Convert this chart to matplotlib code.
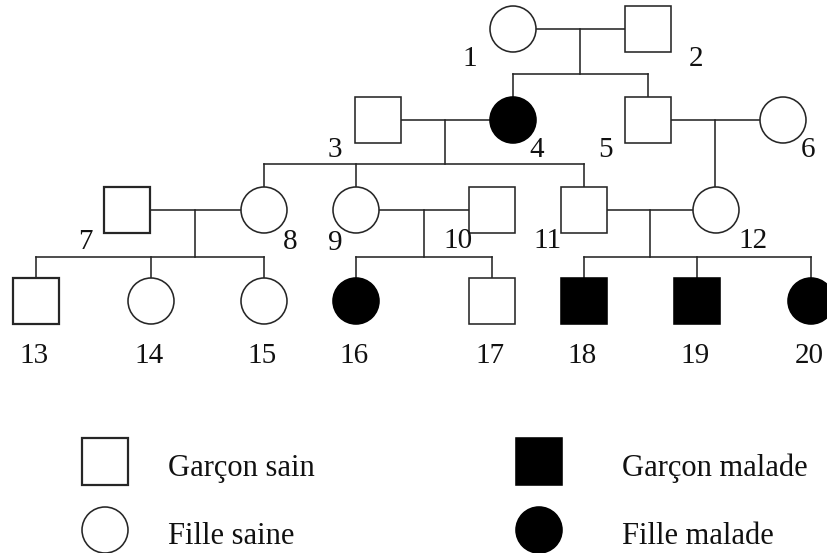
import matplotlib
matplotlib.use('Agg')
import matplotlib.pyplot as plt
from matplotlib.patches import Rectangle, Circle

# individuals: id, sex (M/F), affected
ids = list(range(1, 21))
sex = ['F', 'M', 'M', 'F', 'M', 'F', 'M', 'F', 'F', 'M',
       'M', 'F', 'M', 'F', 'F', 'F', 'M', 'M', 'M', 'F']
affected = [0, 0, 0, 1, 0, 0, 0, 0, 0, 0,
            0, 0, 0, 0, 0, 1, 0, 1, 1, 1]

# couples (left, right) and their children
couples = [(1, 2), (3, 4), (5, 6), (7, 8), (9, 10), (11, 12)]
children = [[4, 5], [8, 9, 11], [12], [13, 14, 15], [16, 17], [18, 19, 20]]

legend_labels = ['Garçon sain', 'Fille saine', 'Garçon malade', 'Fille malade']
legend_sex = ['M', 'F', 'M', 'F']
legend_affected = [0, 0, 1, 1]

# layout (pixel coordinates)
gen_y = [29, 120, 210, 301]
sib_y = [74, 164, 257]
xpos = {1: 513, 2: 648,
        3: 378, 4: 513, 5: 648, 6: 783,
        7: 127, 8: 264, 9: 356, 10: 492, 11: 584, 12: 716,
        13: 36, 14: 151, 15: 264, 16: 356, 17: 492, 18: 584, 19: 697, 20: 811}
gen_of = {}
for i in ids:
    gen_of[i] = 0 if i <= 2 else 1 if i <= 6 else 2 if i <= 12 else 3
# label positions (x, baseline)
label_pos = {1: (470, 66), 2: (696, 66), 3: (335, 157), 4: (537, 157),
             5: (606, 157), 6: (808, 157), 7: (85, 249), 8: (290, 249),
             9: (335, 250), 10: (458, 248), 11: (548, 248), 12: (753, 248)}

R = 23
LC = '#262626'
LW = 1.15

plt.rcParams['font.family'] = ['Liberation Serif', 'DejaVu Serif']

fig = plt.figure(figsize=(8.28, 5.53), dpi=100)
ax = fig.add_axes([0, 0, 1, 1])
ax.set_xlim(0, 828)
ax.set_ylim(553, 0)
ax.axis('off')


def draw_symbol(x, y, s, aff, lw=LW, h=None):
    fc = 'black' if aff else 'white'
    if s == 'M':
        hh = 2 * R if h is None else h
        ax.add_patch(Rectangle((x - R, y - hh / 2), 2 * R, hh, facecolor=fc,
                               edgecolor=LC if not aff else 'black', lw=lw, zorder=3))
    else:
        ax.add_patch(Circle((x, y), R, facecolor=fc,
                            edgecolor=LC if not aff else 'black', lw=lw, zorder=3))


for (a, b), kids in zip(couples, children):
    g = gen_of[a]
    y = gen_y[g]
    xa, xb = xpos[a] + R, xpos[b] - R
    ax.plot([xa, xb], [y, y], color=LC, lw=LW, zorder=1)
    xm = (xa + xb) / 2
    cy = gen_y[g + 1]
    if len(kids) == 1:
        ax.plot([xm, xm], [y, cy - R], color=LC, lw=LW, zorder=1)
        continue
    sy = sib_y[g]
    ax.plot([xm, xm], [y, sy], color=LC, lw=LW, zorder=1)
    kx = [xpos[k] for k in kids]
    ax.plot([min(kx), max(kx)], [sy, sy], color=LC, lw=LW, zorder=1)
    for x in kx:
        ax.plot([x, x], [sy, cy - R], color=LC, lw=LW, zorder=1)

for i, s, aff in zip(ids, sex, affected):
    x, y = xpos[i], gen_y[gen_of[i]]
    lw = 1.6 if i in (7, 13) else LW
    draw_symbol(x, y, s, aff, lw=lw)
    if i in label_pos:
        lx, ly = label_pos[i]
    else:
        lx, ly = x - 2, 363
    ax.text(lx, ly, str(i), ha='center', va='baseline', fontsize=21, color='#111111')

# legend
leg_x = [105, 105, 539, 539]
leg_y = [461, 530, 461, 530]
text_x = [168, 168, 622, 622]
text_y = [476, 544, 476, 544]
for lab, s, aff, x, y, tx, ty in zip(legend_labels, legend_sex, legend_affected,
                                     leg_x, leg_y, text_x, text_y):
    draw_symbol(x, y, s, aff, lw=1.6 if (s == 'M' and not aff) else LW, h=47)
    ax.text(tx, ty, lab, ha='left', va='baseline', fontsize=22, color='#111111')

fig.savefig('out.png', dpi=100)
